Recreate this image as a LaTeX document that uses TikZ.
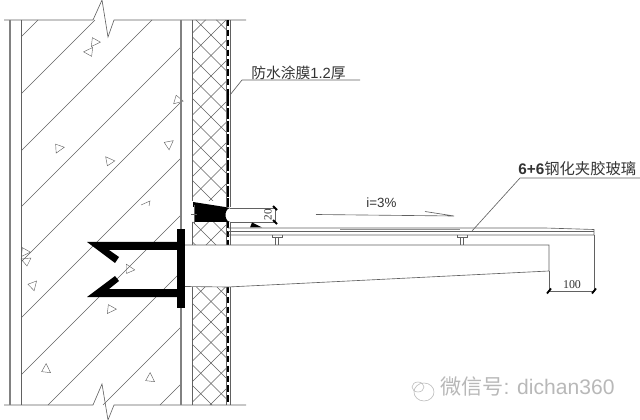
\documentclass[tikz,border=0pt]{standalone}
\usepackage{fontspec}
\setmainfont{Liberation Sans}
\newfontfamily\cjk{Noto Sans CJK SC}
\newfontfamily\numfont{Liberation Serif}
\usepackage{xcolor}
\definecolor{linegray}{gray}{.38}
\definecolor{markgray}{gray}{.72}
\tikzset{
  thinline/.style={draw=linegray, line width=.45pt},
  wallline/.style={draw=linegray!80, line width=.8pt},
  hatchline/.style={draw=linegray, line width=.3pt},
  memb/.style={draw=black, line width=2.1pt},
  tick/.style={draw=black, line width=1.3pt},
  label/.style={inner sep=0pt, text=black!80},
}
\begin{document}
\begin{tikzpicture}[x=.025cm, y=-.025cm]
\useasboundingbox (0,0) rectangle (640,420);
% concrete hatch
\begin{scope}
\clip (22,20) rectangle (181,405);
\foreach \s in {58,115,172,228,283,339,396,453,508,565}
  \draw[hatchline] (\s-20,20)--(\s-405,405);
\end{scope}
% aggregate
\foreach \x/\y/\r in {95/42/20,89/52/200,178/100/10,169/144/60,59/148/30,109/161/150,25/252/20,26/261/180,33/285/70,129/269/140,111/309/20,46/369/110,150/378/110}
  \draw[hatchline,shift={(\x,\y)},rotate=\r] (-5,3)--(5,2)--(-1,-5)--cycle;
\draw[hatchline] (141,205)--(150,201)--(149,206);
% insulation
\begin{scope}
\clip (192,20) rectangle (226,201) (192,222) rectangle (226,245) (192,287) rectangle (226,405);
\foreach \k in {-16,...,16} {
  \draw[hatchline] (192,341+20.5*\k)--(226,307+20.5*\k);
  \draw[hatchline] (192,303-20.5*\k)--(226,337-20.5*\k);
}
\end{scope}
% wall lines
\draw[thinline] (4,20)--(93,20)--(102,0)--(108,37)--(114,20)--(246,20);
\draw[thinline] (4,405)--(93,405)--(102,384)--(108,420)--(114,405)--(246,405);
\draw[wallline] (10,20)--(10,405);
\draw[thinline] (21.5,20)--(21.5,405);
\draw[wallline] (181,20)--(181,405);
\draw[thinline] (192,20)--(192,201) (192,222)--(192,245) (192,287)--(192,405);
% membrane
\draw[thinline] (226,20)--(226,207) (226,222)--(226,245) (226,287)--(226,405);
\draw[thinline] (230,20)--(230,207) (230,222)--(230,245) (230,287)--(230,405);
\draw[memb,dash pattern=on 4.5pt off 2.5pt] (228,20)--(228,95);
\draw[memb,dash pattern=on 8pt off 1.2pt] (228,95)--(228,207);
\draw[memb,dash pattern=on 4.5pt off 2pt] (228,222)--(228,245);
\draw[memb,dash pattern=on 4.5pt off 2.5pt] (228,287)--(228,405);
% bracket and beam
\fill (177,229) rectangle (185,308);
\fill (177,242)--(87,242)--(115,263)--(119,257)--(109,250)--(177,250)--cycle;
\fill (177,297)--(87,297)--(115,276)--(119,281)--(109,289)--(177,289)--cycle;
\draw[thinline] (185,245)--(549,245)--(549,271)--(228,287)--(185,286.5);
% sealant
\fill (193,202)--(225,207)--(230,208) .. controls (224,209) and (224,221) .. (230,222)--(195,222)--(195,207)--(193,207)--cycle;
\draw[thinline] (194,205)--(194,224) (191,214)--(197,214);
\draw[thinline] (230,208)--(275,208) (230,222)--(275,222);
\fill (252,222.5)--(262,227.5)--(250,227.5)--cycle;
% glass
\draw[thinline] (228,228)--(545,228)--(594,229.5)--(594,235)--(228,235);
\draw[thinline] (228,231.5)--(594,231.5);
\draw[hatchline,draw=linegray!70] (340,229.5)--(460,229.5);
\foreach \x in {277,462} {
  \draw[thinline] (\x-5,235)--(\x-5,237)--(\x+5,237)--(\x+5,235);
  \draw[thinline] (\x-1.5,237)--(\x-1.5,245) (\x+1.5,237)--(\x+1.5,245);
}
% slope arrow
\coordinate (slopel) at (316,214.5);
\coordinate (sloper) at (454,216);
\draw[thinline] (slopel)--(sloper)--(425,211.5);
\node[label,font=\fontsize{9.5}{10}\selectfont] (slope) at (381.5,203) {i=3\%};
% dimensions
\draw[thinline] (275,208)--(275,222);
\draw[tick] (273,206)--(277,210);
\draw[tick] (273,220)--(277,224);
\node[label,rotate=90,font=\fontsize{8}{9}\selectfont\numfont] (dimh) at (268,215) {20};
\coordinate (dima) at (549,291);
\coordinate (dimb) at (594,291);
\draw[thinline] (549,271)--(dima)--(dimb)--(594,235);
\draw[tick] (547,293.5)--(551,288.5);
\draw[tick] (592,293.5)--(596,288.5);
\node[label,font=\fontsize{8.5}{9}\selectfont\numfont] (dimw) at (572,284.5) {100};
% leaders
\coordinate (wp) at (230,95);
\draw[thinline] (wp)--(242,80)--(360,80);
\node[label,anchor=west,font=\fontsize{10.5}{11}\selectfont] (wplabel) at (251,72.5) {{\cjk 防水涂膜}1.2{\cjk 厚}};
\coordinate (gl) at (472,231);
\draw[thinline] (gl)--(520,178)--(640,178);
\node[label,anchor=west,font=\fontsize{10.9}{12}\selectfont] (gllabel) at (518,169) {\textbf{6+6}{\cjk 钢化夹胶玻璃}};
% watermark
\draw[markgray,line width=.4pt] (424,392) ellipse (10 and 9);
\draw[markgray,line width=.4pt] (418,387) ellipse (6 and 5);
\node[anchor=west,inner sep=0pt,text=markgray,font=\fontsize{15}{16}\selectfont] (mark) at (440,387) {{\cjk 微信号}: dichan360};
\end{tikzpicture}
\end{document}
